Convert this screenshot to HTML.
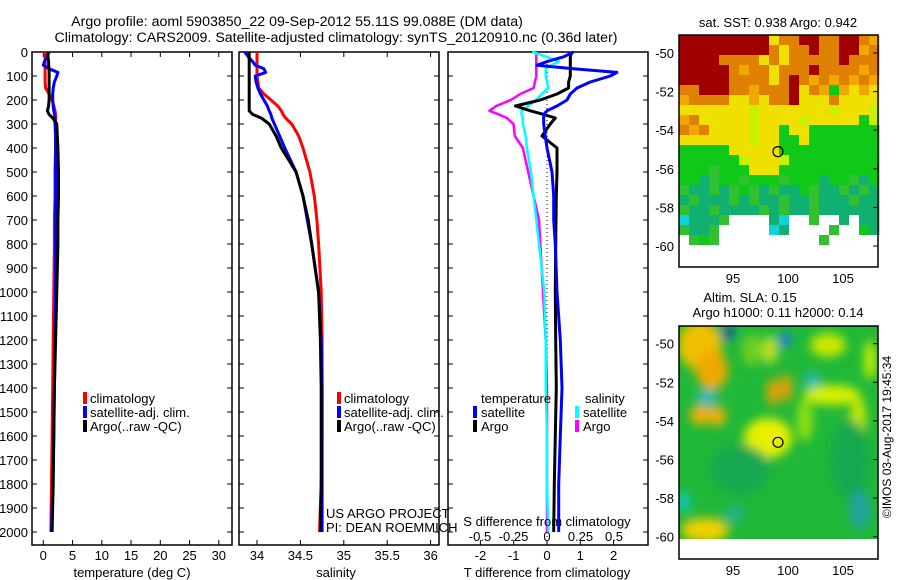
<!DOCTYPE html>
<html><head><meta charset="utf-8"><style>
html,body{margin:0;padding:0;background:#fff;}
svg{display:block;font-family:"Liberation Sans",sans-serif;}
</style></head><body>
<svg id="chart" width="900" height="580" viewBox="0 0 900 580">
<text x="297" y="26" font-size="14.2" text-anchor="middle">Argo profile: aoml 5903850_22 09-Sep-2012 55.11S 99.088E (DM data)</text>
<text x="336" y="42" font-size="14.2" text-anchor="middle">Climatology: CARS2009. Satellite-adjusted climatology: synTS_20120910.nc (0.36d later)</text>
<g id="panels"></g>
<g id="maps"></g>
</svg>
<script>
// ---------- data ----------
const depthLevels=[0,20,40,55,70,85,100,125,150,175,200,225,245,260,275,300,350,400,500,600,700,800,1000,1200,1400,1600,1800,2000];
const tempClim=[0.2,0.3,0.3,0.3,0.3,0.3,0.3,0.3,0.4,1.0,1.5,1.8,2.0,2.1,2.1,2.1,2.1,2.1,2.0,2.0,1.9,1.9,1.8,1.7,1.6,1.5,1.4,1.3];
const tempSat=[1.0,0.6,0.2,0.0,1.0,2.5,2.3,1.9,1.7,1.6,1.6,1.7,1.8,1.9,2.0,2.0,2.1,2.1,2.1,2.1,2.1,2.1,2.1,2.0,1.9,1.8,1.6,1.4];
const tempArgo=[0.8,0.8,0.9,0.9,1.0,1.0,1.0,1.0,1.0,1.0,1.0,0.9,0.7,1.0,1.6,2.3,2.4,2.5,2.6,2.6,2.5,2.5,2.3,2.1,1.9,1.8,1.7,1.5];
const salClim=[34.0,34.0,34.0,34.0,34.0,34.0,34.0,34.01,34.02,34.08,34.16,34.24,34.28,34.30,34.33,34.40,34.48,34.53,34.61,34.66,34.69,34.71,34.74,34.75,34.75,34.75,34.74,34.72];
const salSat=[33.86,33.9,33.95,33.98,34.08,34.1,33.98,33.99,34.01,34.04,34.08,34.12,34.14,34.16,34.17,34.20,34.26,34.32,34.45,34.53,34.58,34.63,34.71,34.74,34.75,34.75,34.75,34.75];
const salArgo=[33.91,33.91,33.91,33.91,33.91,33.91,33.91,33.91,33.91,33.91,33.91,33.91,33.91,33.95,34.05,34.14,34.22,34.28,34.45,34.53,34.59,34.63,34.71,34.73,34.74,34.74,34.74,34.73];
const dTSat=[0.8,0.5,0.0,-0.3,0.8,2.1,1.9,1.3,0.9,0.7,0.6,0.3,0.0,-0.1,-0.1,-0.1,-0.05,0.0,0.15,0.2,0.2,0.25,0.3,0.4,0.45,0.4,0.35,0.35];
const dTArgo=[0.75,0.7,0.7,0.7,0.7,0.7,0.7,0.65,0.65,0.3,-0.2,-0.95,-0.5,-0.1,0.25,0.1,-0.15,0.3,0.3,0.28,0.27,0.26,0.25,0.26,0.28,0.25,0.22,0.2];
const dSSat=[-0.11,0.0,0.09,0.03,-0.01,-0.01,-0.01,0.0,0.01,-0.04,-0.08,-0.14,-0.19,-0.19,-0.18,-0.18,-0.16,-0.15,-0.12,-0.1,-0.08,-0.06,-0.02,-0.01,-0.01,0.0,0.0,0.01];
const dSArgo=[-0.08,-0.08,-0.08,-0.08,-0.08,-0.08,-0.08,-0.09,-0.1,-0.2,-0.27,-0.38,-0.43,-0.36,-0.3,-0.25,-0.24,-0.18,-0.14,-0.1,-0.06,-0.05,-0.03,-0.01,0.0,0.0,0.0,0.0];
const depthTicks=[0,100,200,300,400,500,600,700,800,900,1000,1100,1200,1300,1400,1500,1600,1700,1800,1900,2000];
const tempTicks=[0,5,10,15,20,25,30];
const salTicks=[34,34.5,35,35.5,36];
const salTickLabels=["34","34.5","35","35.5","36"];
const dTTicks=[-2,-1,0,1,2];
const dSTicks=[-0.5,-0.25,0,0.25,0.5];
const dSTickLabels=["-0.5","-0.25","0","0.25","0.5"];
const latTicks=[-50,-52,-54,-56,-58,-60];
const lonTicks=[95,100,105];
const argoLon=99.088, argoLat=-55.11;
// SST map grid (colour codes)
const sstRows=[
"RRRRRRRRRYOORROORROo",
"RRRRRRRRROYOOROORRoO",
"RRRROOOOYOYOOOOOROOO",
"RRRRROoOOYOOOROOOOoO",
"RRRRROOOOYOROoOoOoOo",
"OORRROOoOOORYOoGoYoY",
"oOOOOYYoYOORYYYOYYYY",
"YYYYYYYyYYYYYYYyYYYy",
"oOYYYYYyYYYYyYYYYYGy",
"OoOYYYYyYYGYYGGGGGGG",
"YYYYYYYyYYGGYGGGGGGG",
"GGGGGYYYYYGGGGGGGGGG",
"GGGGGGyYYYyGGGGGGGGG",
"GGGgGGGYYYGGGGGGGGGG",
"GGTgGGgGGGgGGGTGGgTG",
"gTTgTgGgTgTTGgTTgTgT",
"TgTTTgTgTTgTTgTTTgTT",
"gTTgTTTTgTgTTgTTTTTT",
"CTTTgWWWWTCWWgWWTWTT",
"gTTgWWWWWCTWWWWgWWGT",
"WgGgWWWWWWWWWWgWWWWW",
"WWWWWWWWWWWWWWWWWWWW",
"WWWWWWWWWWWWWWWWWWWW",
"WWWWWWWWWWWWWWWWWWWW"];
const sstColors={R:"#a00000",O:"#e08000",o:"#f0a800",Y:"#f0e000",y:"#c8f000",G:"#10c818",g:"#30c030",T:"#10b070",C:"#10d0d8",W:"#ffffff"};

// ---------- helpers ----------
const NS="http://www.w3.org/2000/svg";
function mk(tag,attrs,parent){const e=document.createElementNS(NS,tag);for(const k in attrs)e.setAttribute(k,attrs[k]);parent.appendChild(e);return e;}
const panels=document.getElementById('panels');
const yDepth=d=>52+d*0.24;
const xTemp=t=>43.3+t*5.85;
const xSal=s=>257+(s-34)*86.8;
const xDT=v=>547+v*33.3;
const xDS=v=>547+v*134;

function frame(x0,x1,name){
  const r=mk('rect',{x:x0,y:52,width:x1-x0,height:493,fill:'none',stroke:'#000','stroke-width':1.5},panels);
  
  
  depthTicks.forEach(d=>{
    const t1=mk('line',{x1:x0,x2:x0+5,y1:yDepth(d),y2:yDepth(d),stroke:'#000'},panels);
    
    
    const t2=mk('line',{x1:x1-5,x2:x1,y1:yDepth(d),y2:yDepth(d),stroke:'#000'},panels);
    
    
  });
}
function series(vals,xf,color,name,w){
  const pts=vals.map((v,i)=>xf(v).toFixed(1)+','+yDepth(depthLevels[i]).toFixed(1)).join(' ');
  const p=mk('polyline',{points:pts,fill:'none',stroke:color,'stroke-width':w||3,'stroke-linejoin':'round'},panels);
  
  
}
function txt(x,y,s,opts,name){
  const t=mk('text',Object.assign({x:x,y:y,'font-size':13},opts||{}),panels);
  t.textContent=s;
  
  
  return t;
}
function legendBar(x,y,color,name){
  const r=mk('rect',{x:x,y:y-11,width:4,height:12,fill:color},panels);
  
  
}

// depth labels
depthTicks.forEach(d=>txt(28,yDepth(d)+5,String(d),{'text-anchor':'end'},'depth-tick-label'));

// panel 1: temperature
frame(32,232,'temperature-panel-frame');
tempTicks.forEach(t=>{
  const l=mk('line',{x1:xTemp(t),x2:xTemp(t),y1:540,y2:545,stroke:'#000'},panels);
  
  
  const l2=mk('line',{x1:xTemp(t),x2:xTemp(t),y1:52,y2:57,stroke:'#000'},panels);
  
  
  txt(xTemp(t),560,String(t),{'text-anchor':'middle'},'temp-tick-label');
});
series(tempClim,xTemp,'#ff0000','temp-climatology-line');
series(tempSat,xTemp,'#0000ff','temp-satellite-line');
series(tempArgo,xTemp,'#000000','temp-argo-line');
txt(132,577,'temperature (deg C)',{'text-anchor':'middle'},'temperature-axis-title');
legendBar(83,403,'#ff0000','legend-climatology-marker');txt(90,403,'climatology',{},'legend-climatology');
legendBar(83,417,'#0000ff','legend-satellite-marker');txt(90,417,'satellite-adj. clim.',{},'legend-satellite-adj');
legendBar(83,431,'#000000','legend-argo-marker');txt(90,431,'Argo(..raw -QC)',{},'legend-argo');

// panel 2: salinity
frame(239,439,'salinity-panel-frame');
salTicks.forEach((s,i)=>{
  const l=mk('line',{x1:xSal(s),x2:xSal(s),y1:540,y2:545,stroke:'#000'},panels);
  
  
  const l2=mk('line',{x1:xSal(s),x2:xSal(s),y1:52,y2:57,stroke:'#000'},panels);
  
  
  txt(xSal(s),560,salTickLabels[i],{'text-anchor':'middle'},'sal-tick-label');
});
series(salClim,xSal,'#ff0000','sal-climatology-line');
series(salSat,xSal,'#0000ff','sal-satellite-line');
series(salArgo,xSal,'#000000','sal-argo-line');
txt(336,577,'salinity',{'text-anchor':'middle'},'salinity-axis-title');
legendBar(337,403,'#ff0000','legend2-climatology-marker');txt(344,403,'climatology',{},'legend2-climatology');
legendBar(337,417,'#0000ff','legend2-satellite-marker');txt(344,417,'satellite-adj. clim.',{},'legend2-satellite-adj');
legendBar(337,431,'#000000','legend2-argo-marker');txt(344,431,'Argo(..raw -QC)',{},'legend2-argo');
txt(326,518,'US ARGO PROJECT',{},'project-credit');
txt(326,532,'PI: DEAN ROEMMICH',{},'pi-credit');

// panel 3: differences
frame(448,648,'difference-panel-frame');
dTTicks.forEach(v=>{
  const l=mk('line',{x1:xDT(v),x2:xDT(v),y1:540,y2:545,stroke:'#000'},panels);
  
  
  txt(xDT(v),560,String(v),{'text-anchor':'middle'},'dt-tick-label');
});
{const z=mk('line',{x1:xDT(0),x2:xDT(0),y1:52,y2:545,stroke:'#000','stroke-dasharray':'1,3'},panels);
 
 }
series(dSArgo,xDS,'#ff00ff','s-diff-argo-line',2.5);
series(dSSat,xDS,'#00ffff','s-diff-satellite-line',2.5);
series(dTArgo,xDT,'#000000','t-diff-argo-line');
series(dTSat,xDT,'#0000ff','t-diff-satellite-line');
dSTicks.forEach((v,i)=>txt(xDS(v),541,dSTickLabels[i],{'text-anchor':'middle'},'ds-tick-label'));
txt(547,526,'S difference from climatology',{'text-anchor':'middle'},'s-diff-axis-title');
txt(547,577,'T difference from climatology',{'text-anchor':'middle'},'t-diff-axis-title');
txt(481,403,'temperature',{},'legend3-temperature-heading');
txt(585,403,'salinity',{},'legend3-salinity-heading');
legendBar(473,417,'#0000ff','legend3-t-satellite-marker');txt(481,417,'satellite',{},'legend3-t-satellite');
legendBar(473,431,'#000000','legend3-t-argo-marker');txt(481,431,'Argo',{},'legend3-t-argo');
legendBar(575,417,'#00ffff','legend3-s-satellite-marker');txt(583,417,'satellite',{},'legend3-s-satellite');
legendBar(575,431,'#ff00ff','legend3-s-argo-marker');txt(583,431,'Argo',{},'legend3-s-argo');

// ---------- maps ----------
const maps=document.getElementById('maps');
const lonX=lon=>733+(lon-95)*11;
function mapAxes(top,bot,lat50,name){
  const latY=lat=>lat50+(-50-lat)*19.3;
  const r=mk('rect',{x:679,y:top,width:199,height:bot-top,fill:'none',stroke:'#000','stroke-width':1.5},maps);
  
  
  latTicks.forEach(l=>{
    const t=mk('text',{x:674,y:latY(l)+5,'font-size':13,'text-anchor':'end'},maps);
    t.textContent=String(l);
    
    
    const k=mk('line',{x1:873,x2:878,y1:latY(l),y2:latY(l),stroke:'#000'},maps);
    
    
  });
  lonTicks.forEach(l=>{
    const t=mk('text',{x:lonX(l),y:bot+16,'font-size':13,'text-anchor':'middle'},maps);
    t.textContent=String(l);
    
    
  });
  const c=mk('circle',{cx:lonX(argoLon),cy:latY(argoLat),r:5,fill:'none',stroke:'#000','stroke-width':1.2},maps);
  
  
}
// SST map
{
  const g=mk('g',{},maps);
  
  
  sstRows.forEach((row,ri)=>{
    for(let ci=0;ci<row.length;ci++){
      const h=Math.min(10,267-(35+ri*10));
      if(h<=0)continue;
      mk('rect',{x:679+ci*10,y:35+ri*10,width:10.4,height:h+0.4,fill:sstColors[row[ci]]},g);
    }
  });
}
mapAxes(35,267,53,'sst-map-frame');
{const t=mk('text',{x:778,y:27,'font-size':13,'text-anchor':'middle'},maps);t.textContent='sat. SST: 0.938 Argo: 0.942';
 }

// SLA map
{
  const defs=mk('defs',{},maps);
  const f=mk('filter',{id:'bl',x:'-20%',y:'-20%',width:'140%',height:'140%'},defs);
  mk('feGaussianBlur',{stdDeviation:5},f);
  const cp=mk('clipPath',{id:'cl'},defs);
  mk('rect',{x:679,y:326,width:199,height:213},cp);
  const g=mk('g',{'clip-path':'url(#cl)'},maps);
  
  
  mk('rect',{x:679,y:326,width:199,height:213,fill:'#20b838'},g);
  const b=mk('g',{filter:'url(#bl)'},g);
  const blobs=[
    [700,345,22,25,'#f0c000'],[712,370,16,20,'#f0a800'],[700,415,10,10,'#f0b000'],[717,416,9,10,'#f0b000'],
    [768,438,24,20,'#e8f000'],[773,392,6,14,'#f0a000'],[786,388,6,14,'#f0a000'],[770,350,8,14,'#c0e020'],
    [832,395,28,10,'#d8f000'],[858,420,8,25,'#c8e800'],[828,345,18,12,'#c8e800'],[705,530,24,12,'#f0d000'],
    [752,350,10,16,'#70d020'],[805,420,8,22,'#90e010'],[870,360,6,20,'#c8f000'],
    [728,333,6,6,'#1030c0'],[785,340,7,8,'#2080d0'],[707,398,10,8,'#20b8c0'],[812,380,8,8,'#20b8b8'],
    [684,502,6,10,'#10c8d0'],[734,514,10,8,'#20b090'],[850,460,20,40,'#18a850'],[740,470,30,25,'#18a850'],[860,510,10,20,'#20a0a0']
  ];
  blobs.forEach(o=>mk('ellipse',{cx:o[0],cy:o[1],rx:o[2],ry:o[3],fill:o[4]},b));
}
mapAxes(326,559,343.7,'sla-map-frame');
{const t=mk('text',{x:750,y:302,'font-size':13,'text-anchor':'middle'},maps);t.textContent='Altim. SLA: 0.15';
 
 const t2=mk('text',{x:778,y:317,'font-size':13,'text-anchor':'middle'},maps);t2.textContent='Argo h1000: 0.11 h2000: 0.14';
 
 const t3=mk('text',{x:0,y:0,'font-size':12,'text-anchor':'middle',transform:'translate(891,437) rotate(-90)'},maps);t3.textContent='©IMOS 03-Aug-2017 19:45:34';
 }
</script>
</body></html>
